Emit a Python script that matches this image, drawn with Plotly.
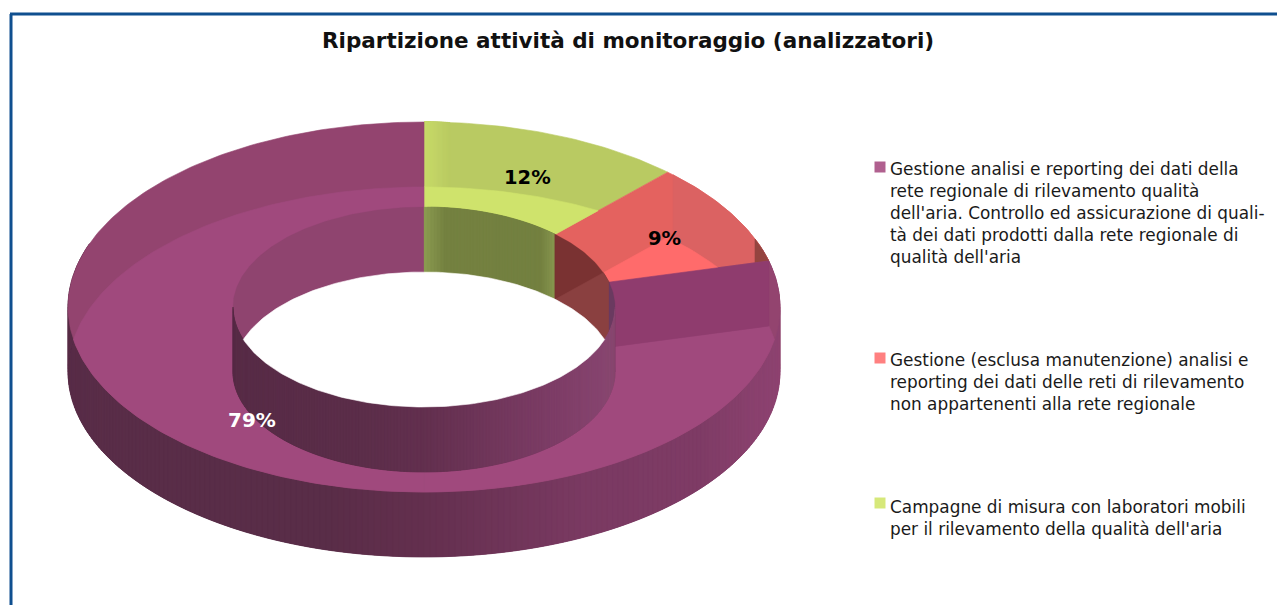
import numpy as np
import plotly.graph_objects as go

# ---------- data ----------
title_text = "Ripartizione attività di monitoraggio (analizzatori)"
slice_names = ["Campagne di misura con laboratori mobili per il rilevamento della qualità dell'aria",
               "Gestione (esclusa manutenzione) analisi e reporting dei dati delle reti di rilevamento non appartenenti alla rete regionale",
               "Gestione analisi e reporting dei dati della rete regionale di rilevamento qualità dell'aria. Controllo ed assicurazione di qualità dei dati prodotti dalla rete regionale di qualità dell'aria"]
slice_shares = [12, 9, 79]
slice_labels = ["12%", "9%", "79%"]
legend_lines_a = ["Gestione analisi e reporting dei dati della", "rete regionale di rilevamento qualità",
                  "dell'aria. Controllo ed assicurazione di quali-", "tà dei dati prodotti dalla rete regionale di",
                  "qualità dell'aria"]
legend_lines_b = ["Gestione (esclusa manutenzione) analisi e", "reporting dei dati delle reti di rilevamento",
                  "non appartenenti alla rete regionale"]
legend_lines_c = ["Campagne di misura con laboratori mobili", "per il rilevamento della qualità dell'aria"]

# ---------- geometry of the pseudo-3D ring ----------
CX, CY, RX, RY, IRX, IRY, DEPTH = 424, 307, 356, 185, 191, 100, 65
W, H = 1277, 605

edges = np.concatenate([[0], np.cumsum(slice_shares)]) * 3.6
G0, G1, R1, P1 = edges


def ell(t, rx, ry, dy=0):
    t = np.radians(t)
    return np.column_stack([CX + rx * np.sin(t), CY + dy - ry * np.cos(t)])


def arc(t0, t1, rx, ry, dy=0, step=1.0):
    n = max(2, int(abs(t1 - t0) / step) + 1)
    return ell(np.linspace(t0, t1, n), rx, ry, dy)


def wedge(t0, t1, dy=0):
    return np.vstack([[[CX, CY + dy]], arc(t0, t1, RX, RY, dy)])


def full(rx, ry, dy=0):
    return arc(0, 360, rx, ry, dy)[:-1]


def clip(subject, convex):
    """Sutherland-Hodgman clip of a polygon against a convex polygon."""
    pts = [tuple(p) for p in subject]
    c = np.asarray(convex)
    x, y = c[:, 0], c[:, 1]
    sign = np.sign(np.sum(x * np.roll(y, -1) - np.roll(x, -1) * y))
    for i in range(len(c)):
        a, b = c[i], c[(i + 1) % len(c)]
        if not pts:
            break
        side = lambda p: sign * ((b[0] - a[0]) * (p[1] - a[1]) - (b[1] - a[1]) * (p[0] - a[0]))
        out = []
        for j in range(len(pts)):
            p, q = pts[j], pts[(j + 1) % len(pts)]
            sp, sq = side(p), side(q)
            if sp >= 0:
                out.append(p)
            if sp * sq < 0:
                k = sp / (sp - sq)
                out.append((p[0] + k * (q[0] - p[0]), p[1] + k * (q[1] - p[1])))
        pts = out
    return np.array(pts) if pts else np.empty((0, 2))


def hexrgb(h):
    return np.array([int(h[i:i + 2], 16) for i in (1, 3, 5)], dtype=float)


def ramp(x, stops):
    xs = [s[0] for s in stops]
    cols = np.array([hexrgb(s[1]) for s in stops])
    return "rgb(%d,%d,%d)" % tuple(np.interp(x, xs, cols[:, i]) for i in range(3))


fig = go.Figure()


def poly(p, color, lw=0.6):
    if len(p) < 3:
        return
    p = np.vstack([p, p[0]])
    fig.add_trace(go.Scatter(x=p[:, 0], y=p[:, 1], mode="lines", fill="toself", fillcolor=color,
                             line=dict(color=color, width=lw), hoverinfo="skip", showlegend=False))


def strips(t0, t1, rx, ry, colorfn, step=3.0):
    """Wall pieces, each overlapping the next one so no seams show."""
    ts = np.arange(t0, t1 + 1e-6, step)
    if ts[-1] < t1:
        ts = np.append(ts, t1)
    for a, b in zip(ts[:-1], ts[1:]):
        e = min(b + 2 * step, t1)
        top = arc(a, e, rx, ry, 0, 1.0)
        bot = arc(e, a, rx, ry, DEPTH, 1.0)
        xm = CX + rx * np.sin(np.radians((a + b) / 2))
        poly(np.vstack([top, bot]), colorfn(xm), 0.3)


OUTER = [(68, "#592d48"), (330, "#5a2d48"), (424, "#64304f"), (580, "#7a3a62"), (700, "#7f3c66"), (780, "#8f4472")]
INNER = [(233, "#582c47"), (360, "#5c2e4a"), (424, "#63304f"), (560, "#7f3e68"), (615, "#8a4872")]
GREEN = [(424, "#8c9c52"), (445, "#758240"), (540, "#738040"), (558, "#8c9c52")]

PURPLE_DARK, PURPLE_LIGHT = "#93446f", "#a0497d"
GREEN_DARK, GREEN_LIGHT = "#b9ca62", "#cfe36c"
RED_DARK, RED_DARK2, RED_LIGHT = "#e4625f", "#db6262", "#ff6b6b"
GREEN_EDGE = [(0, "#c8da68"), (26, GREEN_DARK)]

# outer wall
strips(70, 290, RX, RY, lambda x: ramp(x, OUTER), step=1.0)

# top face: back-wall tinted colours
green_w = wedge(G0, G1)
poly(green_w, GREEN_DARK)
for k in range(12, -1, -1):   # soft highlight next to the slice's straight edge
    dx = (k + 1) * 2
    poly(clip(green_w, [(CX, 0), (CX + dx, 0), (CX + dx, H), (CX, H)]), ramp(k * 2, GREEN_EDGE))
red_w = wedge(G1, R1)
poly(red_w, RED_DARK)
poly(clip(red_w, [(673, 0), (W, 0), (W, H), (673, H)]), RED_DARK2)
poly(clip(red_w, [(755, 0), (W, 0), (W, H), (755, H)]), "#94443f")
poly(wedge(R1, P1), PURPLE_DARK)

# top face: part that overlaps the slice's own shifted footprint is lighter
poly(clip(wedge(G0, G1), wedge(G0, G1, DEPTH)), GREEN_LIGHT)
poly(clip(wedge(G1, R1), wedge(G1, R1, DEPTH)), RED_LIGHT)
mid = 180.0
for a0, a1 in ((R1, mid), (mid, P1)):
    for b0, b1 in ((R1, mid), (mid, P1)):
        poly(clip(wedge(a0, a1), wedge(b0, b1, DEPTH)), PURPLE_LIGHT)

# cut face of the large slice
pi, po = ell(R1, IRX, IRY)[0], ell(R1, RX, RY)[0]
poly(np.array([pi, po, po + [0, DEPTH], pi + [0, DEPTH]]), "#8f3c6e")

# inner wall, back half then front half
strips(270, 360, IRX, IRY, lambda x: "#8f446f", step=90)
strips(G0, G1, IRX, IRY, lambda x: ramp(x, GREEN), step=1)
strips(G1, R1, IRX, IRY, lambda x: "#7a3232", step=40)
red_wall = np.vstack([arc(G1, R1, IRX, IRY), arc(R1, G1, IRX, IRY, DEPTH)])
poly(clip(red_wall, wedge(G1, R1, DEPTH)), "#8a4040")
strips(R1, 90, IRX, IRY, lambda x: "#6a3a60", step=20)
strips(90, 270, IRX, IRY, lambda x: ramp(x, INNER), step=1.0)

# hole
poly(clip(full(IRX, IRY), full(IRX, IRY, DEPTH)), "#ffffff", 0.6)

# legend markers
for ym, col in ((167, "#b0608f"), (358, "#ff8080"), (503, "#d6e87a")):
    fig.add_trace(go.Scatter(x=[880], y=[ym], mode="markers", hoverinfo="skip", showlegend=False,
                             marker=dict(symbol="square", size=11, color=col)))

ann = [dict(x=628, y=40, text="<b>%s</b>" % title_text, font=dict(size=21.5, color="#111111"), xanchor="center")]
for txt, xp, yp, col, sz in ((slice_labels[0], 527, 177, "#000000", 19.5), (slice_labels[1], 664, 238, "#000000", 19.5),
                             (slice_labels[2], 252, 420, "#ffffff", 20)):
    ann.append(dict(x=xp, y=yp, text="<b>%s</b>" % txt, font=dict(size=sz, color=col), xanchor="center"))
for lines, y0 in ((legend_lines_a, 169), (legend_lines_b, 360), (legend_lines_c, 507)):
    for i, ln in enumerate(lines):
        ann.append(dict(x=888, y=y0 + i * 22, text=ln, font=dict(size=16.9, color="#1a1a1a"), xanchor="left"))
for a in ann:
    a.update(xref="x", yref="y", showarrow=False, yanchor="middle")

line_col = "#0f4f8f"
fig.update_layout(
    width=W, height=H, margin=dict(l=0, r=0, t=0, b=0), paper_bgcolor="white", plot_bgcolor="white",
    font=dict(family="DejaVu Sans"), showlegend=False, annotations=ann,
    xaxis=dict(range=[0, W], visible=False, fixedrange=True),
    yaxis=dict(range=[H, 0], visible=False, fixedrange=True),
    shapes=[dict(type="line", x0=10, x1=W, y0=14, y1=14, line=dict(color=line_col, width=3)),
            dict(type="line", x0=11, x1=11, y0=14, y1=H, line=dict(color=line_col, width=3))],
)
fig.write_html("out.html", post_script="document.body.style.margin='0';", config=dict(displayModeBar=False))
